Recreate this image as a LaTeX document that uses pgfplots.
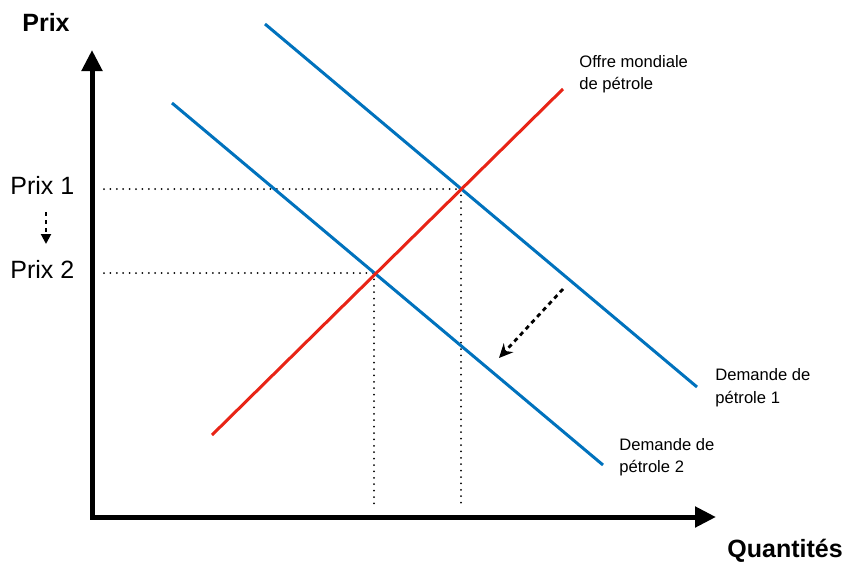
\documentclass[border=0pt]{standalone}
\usepackage{fontspec}
\setmainfont{Liberation Sans}
\usepackage{pgfplots}
\pgfplotsset{compat=1.18}
\usetikzlibrary{arrows.meta}

\definecolor{dblue}{RGB}{0,114,189}
\definecolor{sred}{RGB}{232,36,22}

\begin{document}
\begin{tikzpicture}[lbl/.style={anchor=base west, inner sep=0pt, font=\fontsize{8.3}{10}\selectfont},
                    big/.style={anchor=base west, inner sep=0pt, font=\fontsize{12.5}{15}\selectfont}]
  % 1 px of the reference = 0.5pt
  \begin{axis}[
    name=ax,
    width=426pt, height=284pt,
    scale only axis,
    xmin=0, xmax=852,
    ymin=0, ymax=568,
    y dir=reverse,
    hide axis,
    clip=false,
  ]
  % axes
  \addplot[black, line width=2.5pt, line join=miter,
    {Triangle[width=10pt,length=10.5pt]}-{Triangle[width=10pt,length=10.5pt]}]
    coordinates {(92,50) (92,517) (716,517)};

  % dotted guides
  \addplot[black, line width=1pt, line cap=round, dash pattern=on 0pt off 3.2pt]
    coordinates {(104,189) (461,189)};
  \addplot[black, line width=1pt, line cap=round, dash pattern=on 0pt off 3.2pt]
    coordinates {(104,273) (374,273)};
  \addplot[black, line width=1pt, line cap=round, dash pattern=on 0pt off 3.2pt]
    coordinates {(461,189) (461,505)};
  \addplot[black, line width=1pt, line cap=round, dash pattern=on 0pt off 3.2pt]
    coordinates {(374,273) (374,505)};

  % demand curves
  \addplot[dblue, line width=1.5pt] coordinates {(265,24) (697,387)};
  \addplot[dblue, line width=1.5pt] coordinates {(172,103) (603,465)};
  % supply curve
  \addplot[sred, line width=1.5pt] coordinates {(212,435) (563,89)};

  % shift arrows
  \addplot[black, line width=1.4pt, dash pattern=on 2.2pt off 2pt,
    -{Stealth[length=7pt,width=6.5pt]}]
    coordinates {(563,289) (499,358)};
  \addplot[black, line width=1pt, dash pattern=on 2pt off 2pt,
    -{Triangle[length=5pt,width=5pt]}]
    coordinates {(46,212) (46,244)};

  % labels
  \node[big, font=\fontsize{12.5}{15}\selectfont\bfseries] at (axis cs:22,31) {Prix};
  \node[big, font=\fontsize{12.5}{15}\selectfont\bfseries] at (axis cs:727,557) {Quantités};
  \node[big] at (axis cs:10,194) {Prix 1};
  \node[big] at (axis cs:10,278) {Prix 2};

  \node[lbl] at (axis cs:579,67) {Offre mondiale};
  \node[lbl] at (axis cs:579,89) {de pétrole};
  \node[lbl] at (axis cs:715,380) {Demande de};
  \node[lbl] at (axis cs:715,403) {pétrole 1};
  \node[lbl] at (axis cs:619,450) {Demande de};
  \node[lbl] at (axis cs:619,472) {pétrole 2};
  \end{axis}
  \pgfresetboundingbox
  \path[use as bounding box] (ax.south west) rectangle (ax.north east);
\end{tikzpicture}
\end{document}
